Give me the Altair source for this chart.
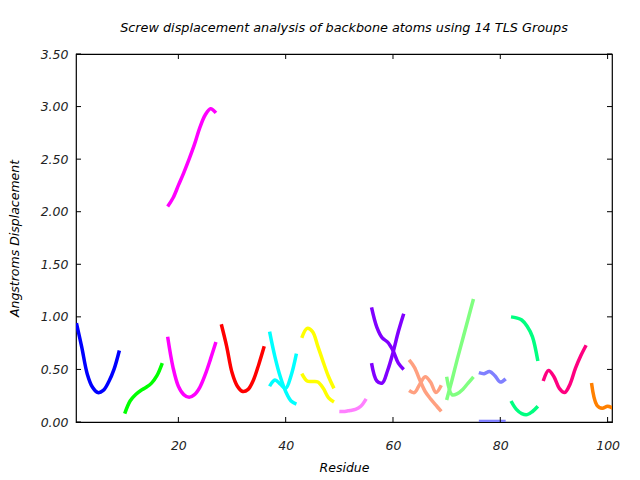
import altair as alt
import pandas as pd

# ---- data (residue, screw displacement in Angstroms) ----
blue_x = [1, 2, 3, 4, 5, 6, 7, 8, 9]
blue_y = [0.94, 0.71, 0.46, 0.33, 0.28, 0.30, 0.38, 0.50, 0.68]

green_x = [10, 11, 12, 13, 14, 15, 16, 17]
green_y = [0.08, 0.20, 0.26, 0.30, 0.33, 0.37, 0.44, 0.56]

mag_lo_x = [18, 19, 20, 21, 22, 23, 24, 25, 26, 27]
mag_lo_y = [0.81, 0.52, 0.34, 0.26, 0.235, 0.26, 0.33, 0.45, 0.60, 0.76]
mag_hi_x = [18, 19, 20, 21, 22, 23, 24, 25, 26, 27]
mag_hi_y = [2.05, 2.13, 2.25, 2.37, 2.50, 2.64, 2.80, 2.92, 2.98, 2.94]

red_x = [28, 29, 30, 31, 32, 33, 34, 35, 36]
red_y = [0.93, 0.72, 0.47, 0.34, 0.29, 0.31, 0.40, 0.55, 0.72]

cyan_a_x = [37, 38, 39, 40, 41, 42]
cyan_a_y = [0.86, 0.62, 0.43, 0.29, 0.20, 0.17]
cyan_b_x = [37, 38, 39, 40, 41, 42]
cyan_b_y = [0.34, 0.40, 0.36, 0.32, 0.44, 0.65]

yel_a_x = [43, 44, 45, 46, 47, 48, 49]
yel_a_y = [0.80, 0.89, 0.86, 0.72, 0.57, 0.43, 0.32]
yel_b_x = [43, 44, 45, 46, 47, 48, 49]
yel_b_y = [0.46, 0.39, 0.385, 0.38, 0.32, 0.23, 0.19]

pink_x = [50, 51, 52, 53, 54, 55]
pink_y = [0.10, 0.10, 0.11, 0.12, 0.15, 0.22]

purple_a_x = [56, 57, 58, 59, 60, 61, 62]
purple_a_y = [1.09, 0.90, 0.80, 0.76, 0.68, 0.56, 0.50]
purple_b_x = [56, 57, 58, 59, 60, 61, 62]
purple_b_y = [0.56, 0.39, 0.37, 0.49, 0.66, 0.86, 1.03]

salmon_a_x = [63, 64, 65, 66, 67, 68, 69]
salmon_a_y = [0.59, 0.52, 0.40, 0.29, 0.22, 0.16, 0.10]
salmon_b_x = [63, 64, 65, 66, 67, 68, 69]
salmon_b_y = [0.30, 0.28, 0.36, 0.43, 0.38, 0.28, 0.35]

lgreen_a_x = [70, 71, 72, 73, 74, 75]
lgreen_a_y = [0.21, 0.40, 0.60, 0.79, 0.98, 1.17]
lgreen_b_x = [70, 71, 72, 73, 74, 75]
lgreen_b_y = [0.43, 0.26, 0.27, 0.31, 0.37, 0.43]

lav_a_x = [76, 77, 78, 79, 80, 81]
lav_a_y = [0.47, 0.46, 0.48, 0.44, 0.38, 0.41]
lav_b_x = [76, 77, 78, 79, 80, 81]
lav_b_y = [0.005, 0.005, 0.005, 0.005, 0.005, 0.005]

spring_a_x = [82, 83, 84, 85, 86, 87]
spring_a_y = [1.00, 0.99, 0.97, 0.91, 0.81, 0.58]
spring_b_x = [82, 83, 84, 85, 86, 87]
spring_b_y = [0.20, 0.12, 0.08, 0.07, 0.10, 0.15]

dpink_x = [88, 89, 90, 91, 92, 93, 94, 95, 96]
dpink_y = [0.39, 0.49, 0.43, 0.32, 0.28, 0.36, 0.51, 0.63, 0.73]

orange_x = [97, 98, 99, 100, 101]
orange_y = [0.37, 0.16, 0.13, 0.15, 0.13]

curves = [
    ("blue", blue_x, blue_y, "#0000ff"),
    ("green", green_x, green_y, "#00ff00"),
    ("mag_lo", mag_lo_x, mag_lo_y, "#ff00ff"),
    ("mag_hi", mag_hi_x, mag_hi_y, "#ff00ff"),
    ("red", red_x, red_y, "#ff0000"),
    ("cyan_a", cyan_a_x, cyan_a_y, "#00ffff"),
    ("cyan_b", cyan_b_x, cyan_b_y, "#00ffff"),
    ("yel_a", yel_a_x, yel_a_y, "#ffff00"),
    ("yel_b", yel_b_x, yel_b_y, "#ffff00"),
    ("pink", pink_x, pink_y, "#ff80ff"),
    ("purple_a", purple_a_x, purple_a_y, "#8000ff"),
    ("purple_b", purple_b_x, purple_b_y, "#8000ff"),
    ("salmon_a", salmon_a_x, salmon_a_y, "#ffa080"),
    ("salmon_b", salmon_b_x, salmon_b_y, "#ffa080"),
    ("lgreen_a", lgreen_a_x, lgreen_a_y, "#80ff80"),
    ("lgreen_b", lgreen_b_x, lgreen_b_y, "#80ff80"),
    ("lav_a", lav_a_x, lav_a_y, "#8080ff"),
    ("lav_b", lav_b_x, lav_b_y, "#8080ff"),
    ("spring_a", spring_a_x, spring_a_y, "#00ff80"),
    ("spring_b", spring_b_x, spring_b_y, "#00ff80"),
    ("dpink", dpink_x, dpink_y, "#ff0080"),
    ("orange", orange_x, orange_y, "#ff8000"),
]

x_ticks = [20, 40, 60, 80, 100]
y_ticks = [0, 0.5, 1.0, 1.5, 2.0, 2.5, 3.0, 3.5]

rows = []
for name, xs, ys, _ in curves:
    for i, (a, b) in enumerate(zip(xs, ys)):
        rows.append({"curve": name, "order": i, "residue": a, "disp": b})
df = pd.DataFrame(rows)

W, H = 536, 368
FONT = "DejaVu Sans"

xscale = alt.Scale(domain=[0.92, 100.82], nice=False, zero=False)
yscale = alt.Scale(domain=[0, 3.5], nice=False)

xaxis = alt.Axis(values=x_ticks, format="d", ticks=False, domain=False,
                 grid=False, labelPadding=17, titlePadding=10)
yaxis = alt.Axis(values=y_ticks, format=".2f", ticks=False, domain=False,
                 grid=False, labelPadding=8, titlePadding=19)

X = lambda: alt.X("residue:Q", scale=xscale, title="Residue", axis=xaxis)
Y = lambda: alt.Y("disp:Q", scale=yscale, title="Angstroms Displacement", axis=yaxis)

lines = alt.Chart(df).mark_line(
    strokeWidth=3.5, interpolate="catmull-rom", clip=True
).encode(
    x=X(),
    y=Y(),
    color=alt.Color("curve:N", scale=alt.Scale(domain=[c[0] for c in curves],
                                               range=[c[3] for c in curves]),
                    legend=None),
    detail="curve:N",
    order="order:Q",
)

xt = pd.DataFrame({"residue": x_ticks})
yt = pd.DataFrame({"disp": y_ticks})

xt_bottom = alt.Chart(xt).mark_rule(color="black", strokeWidth=1).encode(
    x=X(), y=alt.value(H), y2=alt.value(H - 5))
xt_top = alt.Chart(xt).mark_rule(color="black", strokeWidth=1).encode(
    x=X(), y=alt.value(0), y2=alt.value(5))
yt_left = alt.Chart(yt).mark_rule(color="black", strokeWidth=1).encode(
    y=Y(), x=alt.value(0), x2=alt.value(5))
yt_right = alt.Chart(yt).mark_rule(color="black", strokeWidth=1).encode(
    y=Y(), x=alt.value(W), x2=alt.value(W - 5))

chart = alt.layer(lines, xt_bottom, xt_top, yt_left, yt_right).properties(
    width=W, height=H,
    title=alt.TitleParams(
        "Screw displacement analysis of backbone atoms using 14 TLS Groups",
        font=FONT, fontSize=12.8, fontStyle="italic", fontWeight="normal",
        color="black", offset=13, anchor="middle"),
    padding={"left": 76, "top": 54, "right": 28, "bottom": 58},
    autosize=alt.AutoSizeParams(type="none"),
    background="white",
).configure_view(
    stroke="black", strokeWidth=1.2
).configure_axis(
    labelFont=FONT, labelFontSize=12.5, labelFontStyle="italic", labelColor="#222222",
    titleFont=FONT, titleFontSize=12.5, titleFontStyle="italic", titleFontWeight="normal",
    titleColor="black",
)

chart.save("out.html", embed_options={"renderer": "svg", "actions": False})
